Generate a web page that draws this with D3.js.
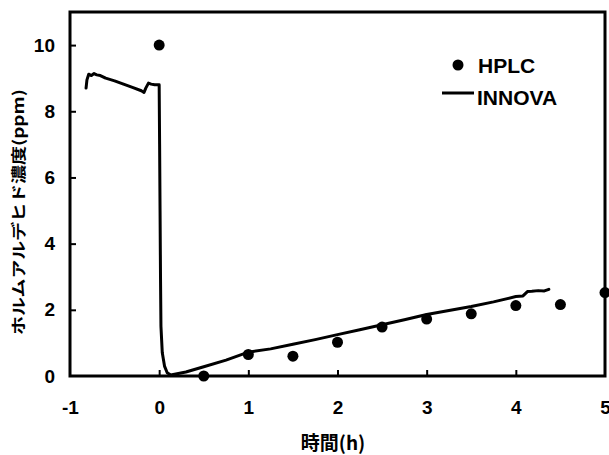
<!DOCTYPE html>
<html>
<head>
<meta charset="utf-8">
<script src="https://cdn.jsdelivr.net/npm/d3@7"></script>
<style>
  body { margin: 0; background: #fff; }
  svg text { font-family: "Liberation Sans", Arial, sans-serif; font-weight: bold; fill: #000; }
</style>
</head>
<body>
<div id="chart"></div>
<script>
// HPLC measurements
var hplcTime = [0, 0.5, 1, 1.5, 2, 2.5, 3, 3.5, 4, 4.5, 5];
var hplcConc = [10, 0, 0.65, 0.6, 1.02, 1.48, 1.72, 1.88, 2.13, 2.16, 2.52];

// INNOVA continuous trace
var innovaTime = [-0.82, -0.81, -0.79, -0.76, -0.73, -0.70, -0.66, -0.60, -0.50, -0.40, -0.30, -0.20, -0.17,
                  -0.15, -0.12, -0.09, -0.05, 0.0, 0.005, 0.01, 0.015, 0.02, 0.035, 0.06, 0.09, 0.13,
                  0.30, 0.50, 0.75, 1.0, 1.25, 1.5, 1.75, 2.0, 2.25, 2.5, 2.75, 3.0, 3.25, 3.5, 3.75,
                  4.0, 4.08, 4.13, 4.18, 4.25, 4.32, 4.37];
var innovaConc = [8.70, 8.95, 9.12, 9.08, 9.14, 9.10, 9.08, 9.00, 8.92, 8.82, 8.72, 8.62, 8.57,
                  8.70, 8.85, 8.82, 8.80, 8.80, 7.0, 5.0, 3.0, 1.5, 0.7, 0.3, 0.1, 0.03,
                  0.12, 0.28, 0.48, 0.72, 0.82, 0.96, 1.10, 1.25, 1.40, 1.55, 1.70, 1.86, 1.98, 2.10, 2.24,
                  2.40, 2.42, 2.55, 2.56, 2.58, 2.57, 2.62];

var xTicks = [-1, 0, 1, 2, 3, 4, 5];
var yTicks = [0, 2, 4, 6, 8, 10];

function drawChart() {
  var W = 609, H = 455;
  var mLeft = 70, mRight = 605, mTop = 12, mBottom = 376;

  var x = d3.scaleLinear().domain([-1, 5]).range([mLeft, mRight]);
  var y = d3.scaleLinear().domain([0, 11]).range([mBottom, mTop]);

  var svg = d3.select("#chart").append("svg")
      .attr("width", W)
      .attr("height", H);

  /* axes */
  var xAxis = svg.append("g")
      .attr("transform", "translate(0," + mBottom + ")")
      .call(d3.axisBottom(x).tickValues(xTicks).tickFormat(String)
        .tickSizeInner(-6).tickSizeOuter(0).tickPadding(25));
  var yAxis = svg.append("g")
      .attr("transform", "translate(" + mLeft + ",0)")
      .call(d3.axisLeft(y).tickValues(yTicks).tickFormat(String)
        .tickSizeInner(-6).tickSizeOuter(0).tickPadding(15));

  [xAxis, yAxis].forEach(function(g){
    g.select(".domain").remove();
    g.selectAll(".tick line").attr("stroke", "#000").attr("stroke-width", 2);
    g.selectAll(".tick text")
      .style("font-size", "19px")
      .style("font-family", "'Liberation Sans', Arial, sans-serif")
      .style("font-weight", "bold");
  });
  // no tick marks on the frame corners
  xAxis.selectAll(".tick").filter(function(d){ return d === -1 || d === 5; }).select("line").remove();
  yAxis.selectAll(".tick").filter(function(d){ return d === 0; }).select("line").remove();

  /* frame */
  svg.append("rect")
      .attr("x", mLeft).attr("y", mTop)
      .attr("width", mRight - mLeft).attr("height", mBottom - mTop)
      .attr("fill", "none")
      .attr("stroke", "#000")
      .attr("stroke-width", 3);

  /* INNOVA line */
  var line = d3.line()
      .x(function(d, i){ return x(innovaTime[i]); })
      .y(function(d, i){ return y(innovaConc[i]); });

  svg.append("path")
      .datum(innovaTime)
      .attr("fill", "none")
      .attr("stroke", "#000")
      .attr("stroke-width", 3)
      .attr("stroke-linejoin", "round")
      .attr("stroke-linecap", "round")
      .attr("d", line);

  /* HPLC points */
  svg.selectAll("circle.hplc")
      .data(hplcTime)
      .enter().append("circle")
      .attr("class", "hplc")
      .attr("cx", function(d){ return x(d); })
      .attr("cy", function(d, i){ return y(hplcConc[i]); })
      .attr("r", 5.5)
      .attr("fill", "#000");

  /* legend */
  svg.append("circle").attr("cx", 458).attr("cy", 65).attr("r", 5.5).attr("fill", "#000");
  svg.append("text").attr("x", 478).attr("y", 73).style("font-size", "21px").text("HPLC");
  svg.append("line").attr("x1", 442).attr("x2", 474).attr("y1", 93).attr("y2", 93)
      .attr("stroke", "#000").attr("stroke-width", 3);
  svg.append("text").attr("x", 477).attr("y", 105).style("font-size", "21px").text("INNOVA");

  /* axis titles */
  svg.append("text")
      .attr("x", 333).attr("y", 450)
      .attr("text-anchor", "middle")
      .style("font-family", "'Noto Sans CJK JP', sans-serif")
      .style("font-size", "19px")
      .text("時間(h)");

  svg.append("text")
      .attr("transform", "translate(24,212) rotate(-90)")
      .attr("text-anchor", "middle")
      .attr("textLength", 246)
      .attr("lengthAdjust", "spacingAndGlyphs")
      .style("font-family", "'Noto Sans CJK JP', sans-serif")
      .style("font-size", "15px")
      .text("ホルムアルデヒド濃度(ppm)");
}

drawChart();
</script>
</body>
</html>
